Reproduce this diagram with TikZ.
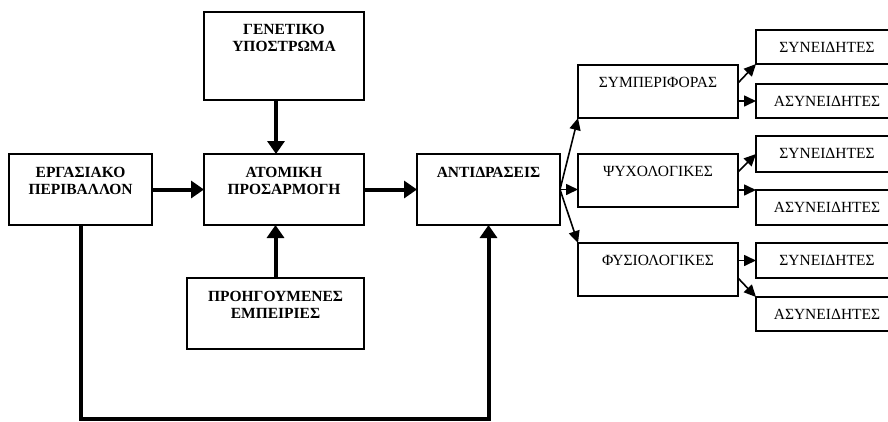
\documentclass[tikz,border=0pt]{standalone}
\usepackage{fontspec}
\setmainfont{Liberation Serif}
\usetikzlibrary{arrows.meta}
% fixed-size box content: text hangs from the top, first baseline at #3
\newcommand\boxtext[4]{\parbox[t][#2][t]{#1}{\centering\rule{0pt}{#3}#4}}
\begin{document}
\begin{tikzpicture}[x=1pt,y=-1pt,
  blk/.style={draw, line width=1.4pt, inner sep=0pt, outer sep=0pt, anchor=north west},
  bold/.style={font=\fontsize{15.5}{17}\selectfont\bfseries},
  plain/.style={font=\fontsize{15.5}{17}\selectfont},
  bigarrow/.style={line width=4pt, -{Triangle[length=13pt,width=17pt]}},
  smallarrow/.style={line width=1.6pt, -{Triangle[length=12pt,width=11pt]}}]
\path[use as bounding box] (0,0) rectangle (888,421);
\clip (0,0) rectangle (888,421);

% main chain
\node[blk, bold] (gen)   at (204,12)  {\boxtext{160pt}{88pt}{22.5pt}{ΓΕΝΕΤΙΚΟ\\ΥΠΟΣΤΡΩΜΑ}};
\node[blk, bold] (erg)   at (9,154)   {\boxtext{143pt}{71pt}{23pt}{ΕΡΓΑΣΙΑΚΟ\\ΠΕΡΙΒΑΛΛΟΝ}};
\node[blk, bold] (atom)  at (204,154) {\boxtext{160pt}{71pt}{23pt}{ΑΤΟΜΙΚΗ\\ΠΡΟΣΑΡΜΟΓΗ}};
\node[blk, bold] (ant)   at (417,154) {\boxtext{143pt}{71pt}{23pt}{ΑΝΤΙΔΡΑΣΕΙΣ}};
\node[blk, bold] (prev)  at (187,278) {\boxtext{177pt}{71pt}{23pt}{ΠΡΟΗΓΟΥΜΕΝΕΣ\\ΕΜΠΕΙΡΙΕΣ}};

% kinds of reactions
\node[blk, plain] (symp)  at (578,65)  {\boxtext{160pt}{53pt}{22pt}{ΣΥΜΠΕΡΙΦΟΡΑΣ}};
\node[blk, plain] (psych) at (578,154) {\boxtext{160pt}{53pt}{22pt}{ΨΥΧΟΛΟΓΙΚΕΣ}};
\node[blk, plain] (phys)  at (578,243) {\boxtext{160pt}{53pt}{22pt}{ΦΥΣΙΟΛΟΓΙΚΕΣ}};

% conscious / unconscious
\node[blk, plain] (syn1)  at (756,30)  {\boxtext{142pt}{34pt}{22pt}{ΣΥΝΕΙΔΗΤΕΣ}};
\node[blk, plain] (asyn1) at (756,84)  {\boxtext{142pt}{34pt}{22pt}{ΑΣΥΝΕΙΔΗΤΕΣ}};
\node[blk, plain] (syn2)  at (756,136) {\boxtext{142pt}{36pt}{22pt}{ΣΥΝΕΙΔΗΤΕΣ}};
\node[blk, plain] (asyn2) at (756,190) {\boxtext{142pt}{35pt}{22pt}{ΑΣΥΝΕΙΔΗΤΕΣ}};
\node[blk, plain] (syn3)  at (756,243) {\boxtext{142pt}{35pt}{22pt}{ΣΥΝΕΙΔΗΤΕΣ}};
\node[blk, plain] (asyn3) at (756,297) {\boxtext{142pt}{34pt}{22pt}{ΑΣΥΝΕΙΔΗΤΕΣ}};

% thick connectors
\draw[bigarrow] (erg.east) -- (atom.west);
\draw[bigarrow] (atom.east) -- (ant.west);
\draw[bigarrow] ([xshift=-8pt]gen.south) -- ([xshift=-8pt]atom.north);
\draw[bigarrow] (prev.north) -- (prev.north |- atom.south);
\coordinate (fb) at (0,418.5);
\draw[bigarrow] (erg.south) -- (erg.south |- fb) -| (ant.south);

% thin connectors
\draw[smallarrow] (ant.east) -- (symp.south west);
\draw[smallarrow] (ant.east) -- (ant.east -| psych.west);
\draw[smallarrow] (ant.east) -- (phys.north west);

\draw[smallarrow] ([yshift=8.5pt]symp.east) -- (syn1.south west);
\draw[smallarrow] (symp.east |- asyn1.west) -- (asyn1.west);
\draw[smallarrow] ([yshift=8.5pt]psych.east) -- (syn2.west);
\draw[smallarrow] (psych.east |- asyn2.north west) -- (asyn2.north west);
\draw[smallarrow] (phys.east |- syn3.west) -- (syn3.west);
\draw[smallarrow] ([yshift=-8.5pt]phys.east) -- (asyn3.north west);
\end{tikzpicture}
\end{document}
